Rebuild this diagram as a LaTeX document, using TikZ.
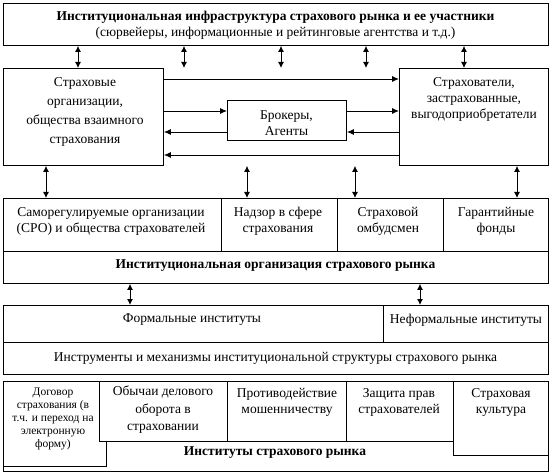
\documentclass[tikz,border=0pt]{standalone}
\usepackage{fontspec}
\setmainfont{Liberation Serif}
\usetikzlibrary{arrows.meta,positioning}

\begin{document}
\begin{tikzpicture}[
  x=1pt, y=-1pt,
  font=\fontsize{13.5}{16}\selectfont,
  cell/.style={draw,line width=.9pt,anchor=north west,inner sep=0pt,fill=white},
  txt/.style={align=center,inner sep=0pt},
  hd/.style={txt,font=\fontsize{13.5}{16}\selectfont\bfseries},
  one/.style={-{Latex[length=7pt,width=6pt]},line width=.9pt},
  two/.style={{Latex[length=6pt,width=6pt]}-{Latex[length=6pt,width=6pt]},line width=.9pt}
]
  \useasboundingbox (0,0) rectangle (552,476);

  % infrastructure
  \node[cell,minimum width=545,minimum height=42] (infra) at (3,3) {};
  \node[hd] (infraT) at (275.5,17) {Институциональная инфраструктура страхового рынка и ее участники};
  \node[txt] (infraS) at (275.5,33) {(сюрвейеры, информационные и рейтинговые агентства и т.д.)};

  % market participants
  \node[cell,minimum width=160,minimum height=97] (org) at (3,68) {};
  \node[txt,font=\fontsize{13.5}{19}\selectfont] (orgT) at (85,112) {Страховые\\организации,\\общества взаимного\\страхования};
  \node[cell,minimum width=149,minimum height=97] (ins) at (399,68) {};
  \node[txt] (insT) at (474,99) {Страхователи,\\застрахованные,\\выгодоприобретатели};
  \node[cell,minimum width=119,minimum height=40] (brk) at (227,100) {};
  \node[txt] (brkT) at (286.5,123) {Брокеры,\\Агенты};

  \coordinate (h1) at (0,79);
  \coordinate (h2) at (0,111);
  \coordinate (h3) at (0,132);
  \coordinate (h4) at (0,155);
  \draw[one] (org.east |- h1) -- (ins.west |- h1);
  \draw[one] (org.east |- h2) -- (brk.west |- h2);
  \draw[one] (brk.east |- h2) -- (ins.west |- h2);
  \draw[one] (brk.west |- h3) -- (org.east |- h3);
  \draw[one] (ins.west |- h3) -- (brk.east |- h3);
  \draw[one] (ins.west |- h4) -- (org.east |- h4);

  \foreach \x in {78,184,281,366,464}{
    \coordinate (v) at (\x,0);
    \draw[two] (v |- infra.south) -- (v |- org.north);
  }

  % institutional organisation
  \node[cell,minimum width=545,minimum height=85] (inst) at (3,198) {};
  \node[cell,minimum width=218,minimum height=53] (sro) at (3,198) {};
  \node[cell,minimum width=116,minimum height=53] (nadz) at (221,198) {};
  \node[cell,minimum width=106,minimum height=53] (omb) at (337,198) {};
  \node[cell,minimum width=105,minimum height=53] (fund) at (443,198) {};
  \node[txt] (sroT) at (111,221) {Саморегулируемые организации\\(СРО) и общества страхователей};
  \node[txt] (nadzT) at (278,221) {Надзор в сфере\\страхования};
  \node[txt] (ombT) at (388,221) {Страховой\\омбудсмен};
  \node[txt] (fundT) at (496,221) {Гарантийные\\фонды};
  \node[hd] (instT) at (275.5,266) {Институциональная организация страхового рынка};

  \foreach \x in {46,247,355,517}{
    \coordinate (v) at (\x,0);
    \draw[two] (v |- org.south) -- (v |- inst.north);
  }

  % instruments
  \node[cell,minimum width=545,minimum height=69] (tools) at (3,305) {};
  \node[cell,minimum width=380,minimum height=37] (formal) at (3,305) {};
  \node[cell,minimum width=165,minimum height=37] (informal) at (383,305) {};
  \node[txt] (formalT) at (192,320) {Формальные институты};
  \node[txt] (informalT) at (466,320) {Неформальные институты};
  \node[txt] (toolsT) at (275.5,358) {Инструменты и механизмы институциональной структуры страхового рынка};

  \foreach \x in {130,420}{
    \coordinate (v) at (\x,0);
    \draw[two] (v |- inst.south) -- (v |- tools.north);
  }

  % market institutes
  \node[cell,minimum width=545,minimum height=90] (mkt) at (3,381) {};
  \node[cell,minimum width=103,minimum height=85] (dog) at (3,381) {};
  \node[txt,font=\fontsize{11.5}{13}\selectfont] (dogT) at (53,419) {Договор\\страхования (в\\т.ч. и переход на\\электронную\\форму)};
  \node[cell,minimum width=128,minimum height=60] (obych) at (99,381) {};
  \node[cell,minimum width=119,minimum height=60] (protiv) at (227,381) {};
  \node[cell,minimum width=107,minimum height=60] (zash) at (346,381) {};
  \node[cell,minimum width=95,minimum height=74] (kult) at (453,381) {};
  \node[txt,font=\fontsize{13.5}{17.5}\selectfont] (obychT) at (163,410) {Обычаи делового\\оборота в\\страховании};
  \node[txt] (protivT) at (287,402) {Противодействие\\мошенничеству};
  \node[txt] (zashT) at (399,402) {Защита прав\\страхователей};
  \node[txt] (kultT) at (501,402) {Страховая\\культура};
  \node[hd] (mktT) at (275,453) {Институты страхового рынка};
\end{tikzpicture}
\end{document}
